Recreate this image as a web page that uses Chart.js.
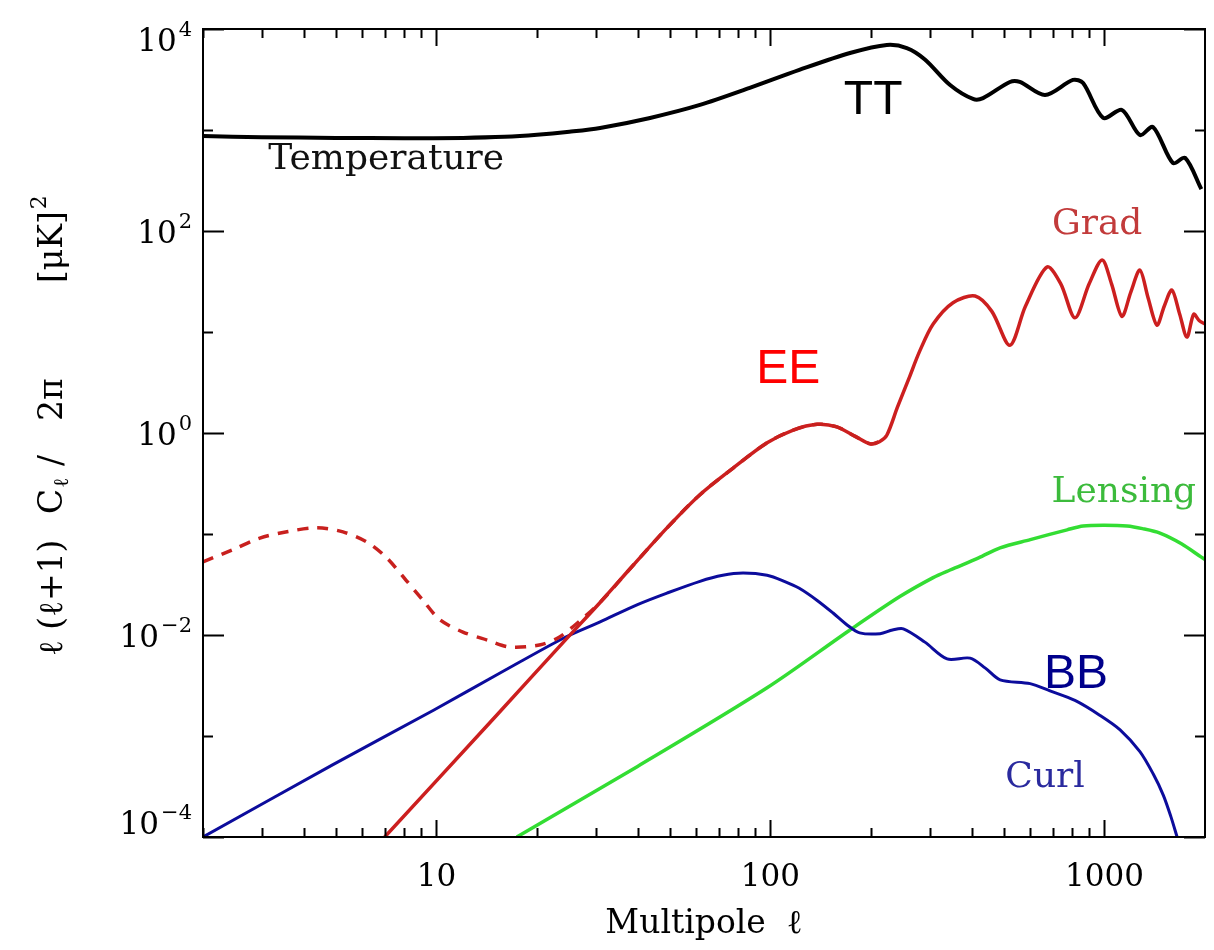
<!DOCTYPE html>
<html>
<head>
<meta charset="utf-8">
<title>CMB power spectra</title>
<script src="https://cdn.jsdelivr.net/npm/chart.js@4.4.1/dist/chart.umd.min.js"></script>
<style>
  html, body { margin: 0; padding: 0; background: #fff; }
  #wrap { width: 1214px; height: 950px; }
</style>
</head>
<body>
<div id="wrap"><canvas id="spectra" width="1214" height="950"></canvas></div>
<script>
// --- Data: multipole ell and l(l+1)C_l/2pi in uK^2 ---
const ttEll = [2, 3, 5, 8, 12, 16, 20, 25, 30.9, 43.6, 61.5, 86.7, 122, 173, 223, 256, 290, 345, 404, 433, 521, 558, 664, 805, 863, 991, 1128, 1277, 1397, 1604, 1743, 1950];
const ttVal = [870, 850, 835, 830, 835, 855, 895, 960, 1047, 1316, 1770, 2610, 3930, 5780, 6950, 6480, 5000, 2790, 2030, 2070, 2990, 2990, 2220, 3130, 2920, 1320, 1580, 890, 1070, 470, 530, 260];

const eeEll = [7, 15, 24.3, 30.9, 38.8, 49, 61.5, 77.3, 97.7, 117, 138, 158, 180, 199, 212, 223, 240, 260, 280, 307, 352, 410, 460, 521, 580, 673, 740, 816, 900, 984, 1050, 1128, 1200, 1277, 1350, 1436, 1510, 1592, 1680, 1766, 1850, 1920, 2000];
const eeVal = [1e-4, 1.55e-3, 0.0089, 0.021, 0.049, 0.115, 0.245, 0.45, 0.80, 1.07, 1.22, 1.15, 0.92, 0.78, 0.82, 0.95, 1.8, 3.5, 6.5, 12, 19.5, 22.7, 16, 7.4, 18, 44, 30, 13.8, 30, 51.7, 30, 14.3, 25, 41, 22, 11.7, 18, 26, 15, 8.9, 15, 13, 12];

// reionization bump of the gradient mode (dashed), joins the solid curve
const eeReionEll = [2, 2.46, 2.96, 3.6, 4.39, 5.25, 6.2, 7.1, 8.1, 9.1, 10.25, 12, 14.2, 16.6, 20.5, 23.3, 27, 30.9, 38.8, 49, 61.5, 77.3, 97.7, 117, 138, 158, 180, 199, 212];
const eeReionVal = [0.053, 0.070, 0.091, 0.106, 0.115, 0.105, 0.083, 0.058, 0.035, 0.0222, 0.0141, 0.0107, 0.0089, 0.0076, 0.0080, 0.0095, 0.014, 0.021, 0.049, 0.115, 0.245, 0.45, 0.80, 1.07, 1.22, 1.15, 0.92, 0.78, 0.82];

const bbEll = [2, 4.9, 9.8, 15.5, 24.3, 30.9, 40, 49, 61.5, 72, 82.8, 97.7, 110, 122, 138, 154, 170, 185, 213, 232, 250, 290, 338, 396, 440, 487, 599, 687, 816, 970, 1114, 1277, 1400, 1500, 1580, 1650];
const bbVal = [1.0e-4, 5.2e-4, 1.8e-3, 4.2e-3, 9.5e-3, 0.0135, 0.020, 0.026, 0.034, 0.039, 0.041, 0.039, 0.034, 0.029, 0.022, 0.0165, 0.0125, 0.0105, 0.0103, 0.0112, 0.0115, 0.0085, 0.0058, 0.0059, 0.0047, 0.0036, 0.0033, 0.0028, 0.00225, 0.0016, 0.00115, 7e-4, 4.2e-4, 2.6e-4, 1.6e-4, 1.0e-4];

const lensEll = [17.4, 40, 97.7, 173, 244, 307, 345, 420, 487, 600, 773, 863, 1000, 1168, 1300, 1466, 1700, 1950, 2000];
const lensVal = [1e-4, 5.0e-4, 3.0e-3, 0.0112, 0.024, 0.037, 0.044, 0.058, 0.073, 0.088, 0.11, 0.12, 0.122, 0.12, 0.113, 0.102, 0.08, 0.059, 0.056];

// --- Axis ticks ---
const xMinorTicks = [2, 3, 4, 5, 6, 7, 8, 9, 20, 30, 40, 50, 60, 70, 80, 90, 200, 300, 400, 500, 600, 700, 800, 900];
const xMajorTicks = [10, 100, 1000];
const yTicks = [1e-4, 1e-3, 1e-2, 1e-1, 1, 10, 100, 1000, 1e4];
const yLabelExponents = [-4, -2, 0, 2, 4];

// --- Curve annotations, placed in data coordinates ---
const curveLabels = [
  { text: 'TT', ell: 203, val: 1940, font: '48px "Liberation Sans", Arial, sans-serif', color: '#000000' },
  { text: 'EE', ell: 113, val: 4.2, font: '48px "Liberation Sans", Arial, sans-serif', color: '#ff0000' },
  { text: 'BB', ell: 822, val: 0.004, font: '48px "Liberation Sans", Arial, sans-serif', color: '#00008b' },
  { text: 'Temperature', ell: 7.07, val: 505, font: '36px "DejaVu Serif", serif', color: '#111111' },
  { text: 'Grad', ell: 951, val: 115, font: '36px "DejaVu Serif", serif', color: '#c23b3b' },
  { text: 'Lensing', ell: 1143, val: 0.255, font: '36px "DejaVu Serif", serif', color: '#3cbb3c' },
  { text: 'Curl', ell: 664, val: 3.84e-4, font: '36px "DejaVu Serif", serif', color: '#2a2a9e' }
];

const serif = '"DejaVu Serif", serif';

function toPoints(ells, vals) {
    return ells.map((l, i) => ({ x: l, y: vals[i] }));
}

// Frame, inward ticks, y tick labels, y title and curve labels
const axisDecor = {
    id: 'axisDecor',
    afterDatasetsDraw(chart) {
        const { ctx, chartArea, scales } = chart;
        const { left, right, top, bottom } = chartArea;
        const x = scales.x, y = scales.y;

        ctx.save();
        ctx.strokeStyle = '#000';
        ctx.lineWidth = 2;
        ctx.strokeRect(left, top, right - left, bottom - top);

        ctx.beginPath();
        xMinorTicks.concat(xMajorTicks).forEach(v => {
            const px = Math.round(x.getPixelForValue(v)) + 0.5;
            const len = xMajorTicks.includes(v) ? 17 : 9;
            ctx.moveTo(px, bottom); ctx.lineTo(px, bottom - len);
            ctx.moveTo(px, top); ctx.lineTo(px, top + len);
        });
        yTicks.forEach(v => {
            const py = Math.round(y.getPixelForValue(v)) + 0.5;
            const exp = Math.round(Math.log10(v));
            const len = yLabelExponents.includes(exp) ? 21 : 10;
            ctx.moveTo(left, py); ctx.lineTo(left + len, py);
            ctx.moveTo(right, py); ctx.lineTo(right - len, py);
        });
        ctx.stroke();

        // y tick labels: 10 with a raised exponent
        ctx.fillStyle = '#000';
        yLabelExponents.forEach(e => {
            const py = y.getPixelForValue(Math.pow(10, e));
            const baseMid = Math.min(Math.max(py + 4, 43), 826);
            const expText = e < 0 ? '\u2212' + Math.abs(e) : String(e);
            ctx.font = '21px ' + serif;
            ctx.textAlign = 'right';
            const expW = ctx.measureText(expText).width;
            ctx.textBaseline = 'alphabetic';
            ctx.fillText(expText, 192, baseMid - 7);
            ctx.font = '31px ' + serif;
            ctx.textBaseline = 'middle';
            ctx.fillText('10', 190 - expW, baseMid);
        });

        // y axis title, rotated
        ctx.translate(62, 0);
        ctx.rotate(-Math.PI / 2);
        ctx.textAlign = 'left';
        ctx.textBaseline = 'alphabetic';
        ctx.font = '33px ' + serif;
        ctx.fillText('\u2113 (\u2113+1)', -656, 0);
        ctx.fillText('C', -514, 0);
        const cW = ctx.measureText('C').width;
        ctx.font = '21px ' + serif;
        ctx.fillText('\u2113', -514 + cW + 1, 6);
        ctx.font = '33px ' + serif;
        ctx.fillText('/', -466, 0);
        ctx.fillText('2\u03c0', -421, 0);
        ctx.fillText('[\u03bcK]', -283, 0);
        const bW = ctx.measureText('[\u03bcK]').width;
        ctx.font = '22px ' + serif;
        ctx.fillText('2', -283 + bW + 2, -16);
        ctx.restore();

        // curve labels
        ctx.save();
        ctx.textAlign = 'center';
        ctx.textBaseline = 'middle';
        curveLabels.forEach(c => {
            ctx.font = c.font;
            ctx.fillStyle = c.color;
            ctx.fillText(c.text, x.getPixelForValue(c.ell), y.getPixelForValue(c.val));
        });
        ctx.restore();
    }
};

const ctx = document.getElementById('spectra').getContext('2d');
const spectraChart = new Chart(ctx, {
    type: 'line',
    data: {
        datasets: [
            { label: 'TT', data: toPoints(ttEll, ttVal), borderColor: '#000000', borderWidth: 4 },
            { label: 'EE reionization', data: toPoints(eeReionEll, eeReionVal), borderColor: '#c8201e', borderWidth: 3.5, borderDash: [11, 9] },
            { label: 'EE', data: toPoints(eeEll, eeVal), borderColor: '#cc1f1f', borderWidth: 3.5 },
            { label: 'BB', data: toPoints(bbEll, bbVal), borderColor: '#0c0c9c', borderWidth: 3 },
            { label: 'Lensing', data: toPoints(lensEll, lensVal), borderColor: '#33dd33', borderWidth: 3.5 }
        ]
    },
    options: {
        responsive: false,
        animation: false,
        events: [],
        elements: {
            point: { radius: 0 },
            line: { tension: 0.3, fill: false, borderCapStyle: 'butt' }
        },
        layout: { padding: { top: 29, right: 9, left: 0, bottom: 0 } },
        plugins: {
            legend: { display: false },
            tooltip: { enabled: false }
        },
        scales: {
            x: {
                type: 'logarithmic',
                min: 2,
                max: 2000,
                afterBuildTicks: s => {
                    s.ticks = xMinorTicks.concat(xMajorTicks).sort((a, b) => a - b)
                        .map(v => ({ value: v, major: xMajorTicks.includes(v) }));
                },
                afterFit: s => { s.height = 113; },
                grid: { display: false, drawTicks: false },
                border: { display: false },
                ticks: {
                    autoSkip: false,
                    maxRotation: 0,
                    padding: 22,
                    color: '#000',
                    font: { family: serif, size: 31 },
                    callback: v => xMajorTicks.includes(v) ? String(v) : ''
                },
                title: {
                    display: true,
                    text: 'Multipole  \u2113',
                    color: '#000',
                    font: { family: serif, size: 33 },
                    padding: { top: 0, bottom: 6 }
                }
            },
            y: {
                type: 'logarithmic',
                min: 1e-4,
                max: 1e4,
                afterBuildTicks: s => { s.ticks = yTicks.map(v => ({ value: v })); },
                afterFit: s => { s.width = 203; },
                grid: { display: false, drawTicks: false },
                border: { display: false },
                ticks: { display: false }
            }
        }
    },
    plugins: [axisDecor]
});
</script>
</body>
</html>
